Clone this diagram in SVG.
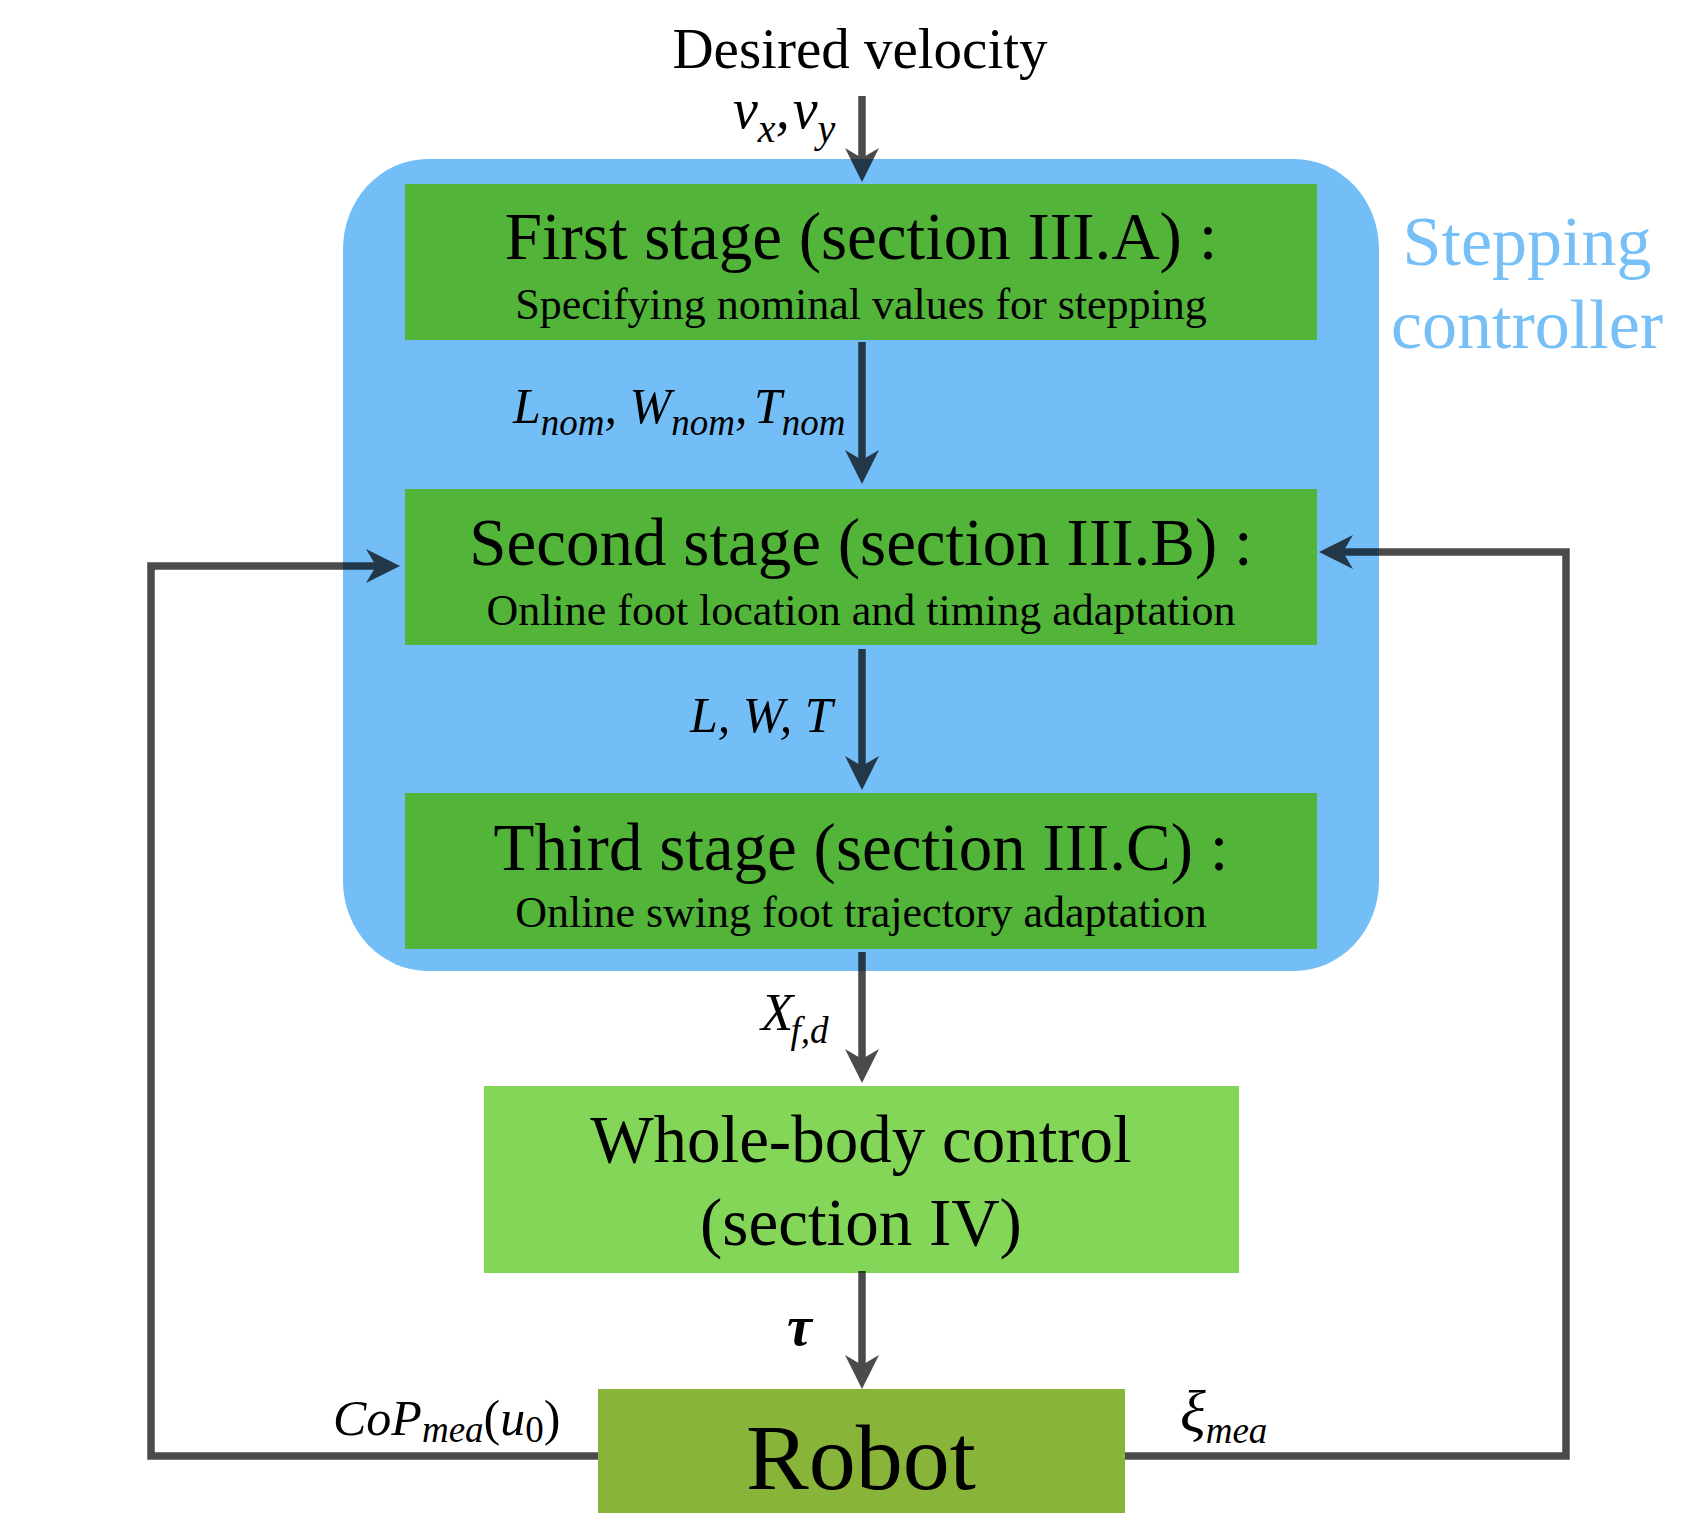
<svg xmlns="http://www.w3.org/2000/svg" width="1690" height="1533" viewBox="0 0 1690 1533">
<style>
text { font-family: "Liberation Serif", "Times New Roman", serif; fill: #000; }
.title { font-size: 67px; text-anchor: middle; }
.sub { font-size: 44px; text-anchor: middle; }
.math { font-style: italic; font-size: 50px; }
.stage { fill: #52B438; }
.conn { fill: none; stroke: #000; stroke-width: 7.5; }
</style>
<defs>
<marker id="ah" markerUnits="userSpaceOnUse" viewBox="-36 -18 38 36" markerWidth="38" markerHeight="36" refX="-20" refY="0" orient="auto">
<path d="M0,0 L-34,-17 L-24,0 L-34,17 Z" fill="#000"/>
</marker>
</defs>
<rect width="1690" height="1533" fill="#fff"/>

<g id="stepping-controller">
<rect x="343" y="159" width="1036" height="812" rx="85" ry="90" fill="#73BEF7"/>
<text x="1527" y="265" font-size="70" text-anchor="middle" style="fill:#76BFF7">Stepping</text>
<text x="1527" y="348" font-size="70" text-anchor="middle" style="fill:#76BFF7">controller</text>
</g>

<g id="input">
<text x="860" y="68" font-size="57" text-anchor="middle">Desired velocity</text>
</g>

<g id="stage1">
<rect class="stage" x="405" y="184" width="912" height="156"/>
<text class="title" x="861" y="259">First stage (section III.A) :</text>
<text class="sub" x="861" y="319">Specifying nominal values for stepping</text>
</g>

<g id="stage2">
<rect class="stage" x="405" y="489" width="912" height="156"/>
<text class="title" x="861" y="565">Second stage (section III.B) :</text>
<text class="sub" x="861" y="625">Online foot location and timing adaptation</text>
</g>

<g id="stage3">
<rect class="stage" x="405" y="793" width="912" height="156"/>
<text class="title" x="861" y="870">Third stage (section III.C) :</text>
<text class="sub" x="861" y="927">Online swing foot trajectory adaptation</text>
</g>

<g id="wbc">
<rect x="484" y="1086" width="755" height="187" fill="#84D658"/>
<text class="title" x="861" y="1162">Whole-body control</text>
<text class="title" x="861" y="1245">(section IV)</text>
</g>

<g id="robot">
<rect x="598" y="1389" width="527" height="124" fill="#89B43A"/>
<text x="861" y="1489" font-size="94" text-anchor="middle">Robot</text>
</g>

<g id="connectors" opacity="0.7">
<path class="conn" d="M862,96 V162" marker-end="url(#ah)"/>
<path class="conn" d="M862,342 V464" marker-end="url(#ah)"/>
<path class="conn" d="M862,649 V770" marker-end="url(#ah)"/>
<path class="conn" d="M862,952 V1063" marker-end="url(#ah)"/>
<path class="conn" d="M862,1271 V1369" marker-end="url(#ah)"/>
<path class="conn" d="M598,1456 H151 V566 H380" marker-end="url(#ah)"/>
<path class="conn" d="M1125,1456 H1566 V552 H1339" marker-end="url(#ah)"/>
</g>

<g id="labels">
<text class="math" x="733" y="128" style="font-size:56px">v<tspan style="font-size:40px" dy="14">x</tspan><tspan dy="-14">,</tspan><tspan style="font-size:12px"> </tspan>v<tspan style="font-size:40px" dy="14">y</tspan></text>
<text class="math" x="513" y="423">L<tspan style="font-size:37px" dy="12">nom</tspan><tspan dy="-12">, W</tspan><tspan style="font-size:37px" dy="12">nom</tspan><tspan dy="-12">,</tspan><tspan style="font-size:26px"> </tspan>T<tspan style="font-size:37px" dy="12">nom</tspan></text>
<text class="math" x="690" y="732">L, W, T</text>
<text class="math" x="761" y="1030" style="font-size:53px">X<tspan dx="-3" style="font-size:37px" dy="13">f,d</tspan></text>
<text x="787" y="1345" style="font-size:56px;font-style:italic;font-weight:bold">τ</text>
<text class="math" x="333" y="1435">CoP<tspan style="font-size:37px" dy="7">mea</tspan><tspan dy="-7" style="font-style:normal">(</tspan>u<tspan style="font-size:37px;font-style:normal" dy="7">0</tspan><tspan dy="-7" style="font-style:normal">)</tspan></text>
<text class="math" x="1180" y="1432" style="font-size:60px">ξ<tspan style="font-size:37px" dy="11">mea</tspan></text>
</g>
</svg>
